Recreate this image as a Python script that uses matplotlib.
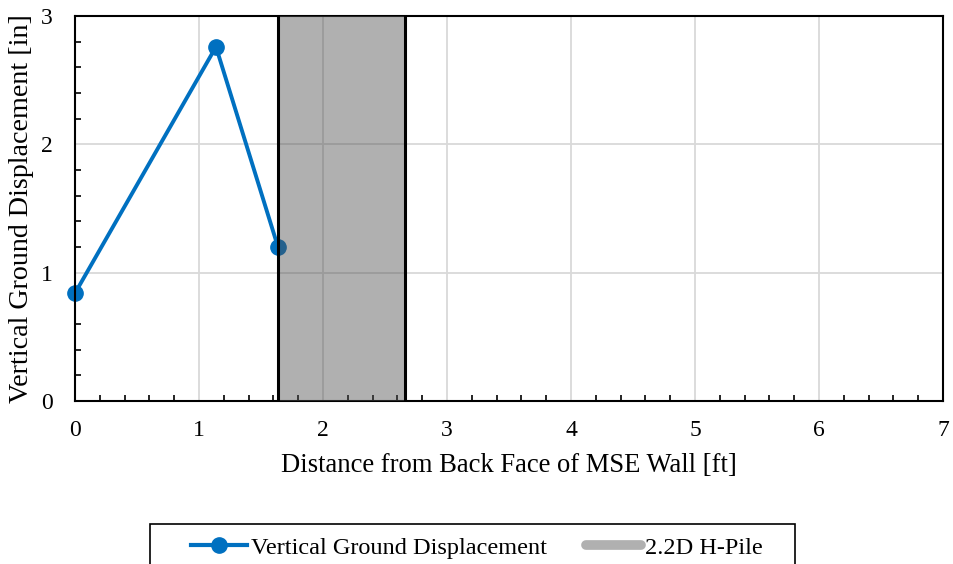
import matplotlib
matplotlib.use('Agg')
import matplotlib.pyplot as plt
from matplotlib.lines import Line2D
from matplotlib.patches import Rectangle
from matplotlib.ticker import MultipleLocator

plt.rcParams['font.family'] = ['Liberation Serif', 'DejaVu Serif']

# data
distance_ft = [0.0, 1.137, 1.637]
displacement_in = [0.84, 2.76, 1.20]
pile_left = 1.64
pile_right = 2.66

blue = '#0070c0'

fig = plt.figure(figsize=(9.54, 5.64), dpi=100)
ax = fig.add_axes([0.0786, 0.289, 0.9099, 0.6826])

ax.plot(distance_ft, displacement_in, color=blue, lw=2.8, marker='o',
        markersize=11, zorder=2, clip_on=False)

# pile zone sits on top of the series, like the original
ax.axvspan(pile_left, pile_right, color='#505050', alpha=0.45, lw=0, zorder=3)
ax.axvline(pile_left, color='black', lw=2.2, zorder=4)
ax.axvline(pile_right, color='black', lw=2.2, zorder=4)

ax.set_xlim(0, 7)
ax.set_ylim(0, 3)
ax.xaxis.set_major_locator(MultipleLocator(1))
ax.xaxis.set_minor_locator(MultipleLocator(0.2))
ax.yaxis.set_major_locator(MultipleLocator(1))
ax.yaxis.set_minor_locator(MultipleLocator(0.2))
ax.grid(True, which='major', color='#d9d9d9', lw=1.3, zorder=1)
ax.set_axisbelow(True)

ax.tick_params(which='major', direction='in', length=0, labelsize=17)
ax.tick_params(axis='x', which='major', pad=14)
ax.tick_params(axis='y', which='major', pad=16)
ax.tick_params(which='minor', direction='in', length=4, width=1.2, color='black')
for s in ax.spines.values():
    s.set_linewidth(1.5)
    s.set_color('black')

ax.set_xlabel('Distance from Back Face of MSE Wall [ft]', fontsize=19.2, labelpad=8)
ax.set_ylabel('Vertical Ground Displacement [in]', fontsize=20.2, labelpad=5)

handles = [
    Line2D([], [], color=blue, lw=3, marker='o', markersize=11),
    Line2D([], [], color='#b0b0b0', lw=7, solid_capstyle='round'),
]
leg = fig.legend(handles, ['Vertical Ground Displacement', '2.2D H-Pile'],
                 loc='upper center', bbox_to_anchor=(0.5, 1 - 522 / 564),
                 borderaxespad=0, ncol=2, fontsize=17.5, frameon=False,
                 handlelength=2.3, handletextpad=0.15, columnspacing=1.6,
                 borderpad=0.6)

# wide legend box that runs off the bottom edge
fig.patches.append(Rectangle((150 / 954, -0.05), 645 / 954, 0.05 + 40 / 564,
                             transform=fig.transFigure, fill=False,
                             edgecolor='black', lw=1.2))

fig.savefig('out.png', dpi=100)
